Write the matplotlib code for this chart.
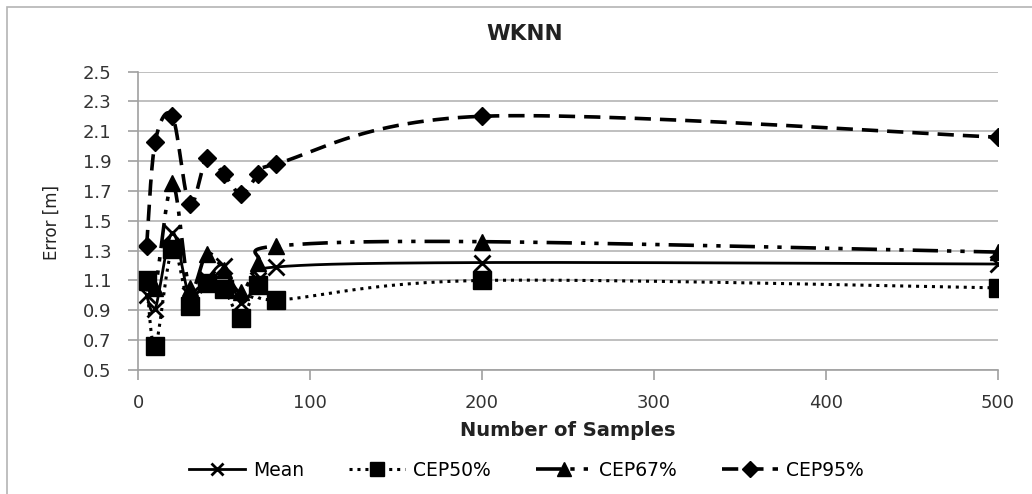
import numpy as np
import matplotlib.pyplot as plt
from matplotlib.patches import Rectangle

plt.rcParams['font.family'] = ['DejaVu Sans']

samples = [5, 10, 20, 30, 40, 50, 60, 70, 80, 200, 500]
mean_err = [1.00, 0.91, 1.42, 1.00, 1.11, 1.20, 0.95, 1.10, 1.19, 1.22, 1.21]
cep50 = [1.10, 0.66, 1.31, 0.93, 1.08, 1.04, 0.85, 1.07, 0.97, 1.10, 1.05]
cep67 = [1.09, 1.05, 1.75, 1.05, 1.28, 1.17, 1.02, 1.22, 1.33, 1.36, 1.29]
cep95 = [1.33, 2.03, 2.20, 1.61, 1.92, 1.81, 1.68, 1.81, 1.88, 2.20, 2.06]
ytick_vals = [0.5, 0.7, 0.9, 1.1, 1.3, 1.5, 1.7, 1.9, 2.1, 2.3, 2.5]


def smooth(xs, ys, n=30):
    # excel-style smoothed line: catmull-rom through every point
    p = np.column_stack([xs, ys]).astype(float)
    p = np.vstack([p[0], p, p[-1]])
    out = []
    t = np.linspace(0, 1, n)[:, None]
    for i in range(1, len(p) - 2):
        p0, p1, p2, p3 = p[i - 1], p[i], p[i + 1], p[i + 2]
        seg = 0.5 * ((2 * p1) + (-p0 + p2) * t + (2 * p0 - 5 * p1 + 4 * p2 - p3) * t ** 2
                     + (-p0 + 3 * p1 - 3 * p2 + p3) * t ** 3)
        out.append(seg)
    out = np.vstack(out)
    return out[:, 0], out[:, 1]


fig = plt.figure(figsize=(10.32, 4.94), dpi=100)
# chart border (only left/top edges fall inside the image)
fig.patches.append(Rectangle((7 / 1032, -0.1), 1.2, 1.086, transform=fig.transFigure,
                             fill=False, edgecolor='#b4b4b4', linewidth=1.2))
ax = fig.add_axes([138 / 1032, 1 - 370 / 494, 860 / 1032, 298.5 / 494])

series = [
    ('Mean', mean_err, '-', 'x', 11, 2.0),
    ('CEP50%', cep50, (0, (1, 1.6)), 's', 12.5, 2.2),
    ('CEP67%', cep67, (0, (7, 2.5, 1.2, 2.5, 1.2, 2.5)), '^', 12, 2.6),
    ('CEP95%', cep95, (0, (4.5, 2.5)), 'D', 9, 2.6),
]
for name, vals, ls, mk, ms, lw in series:
    sx, sy = smooth(samples, vals)
    ax.plot(sx, sy, color='black', linestyle=ls, linewidth=lw)
    ax.plot(samples, vals, linestyle='none', marker=mk, markersize=ms, color='black',
            markeredgewidth=2 if mk == 'x' else 1)
    ax.plot([], [], color='black', linestyle=ls, linewidth=lw, marker=mk,
            markersize=ms * 0.85, markeredgewidth=2 if mk == 'x' else 1, label=name)

ax.set_xlim(0, 500)
ax.set_ylim(0.5, 2.5)
ax.set_xticks([0, 100, 200, 300, 400, 500])
ax.set_yticks(ytick_vals)
ax.set_yticklabels(['%.1f' % v for v in ytick_vals])
ax.grid(axis='y', color='#b4b4b4', linewidth=1.2)
ax.set_axisbelow(True)
for s in ['top', 'right']:
    ax.spines[s].set_visible(False)
ax.spines['left'].set_color('#a0a0a0')
ax.spines['bottom'].set_color('#a0a0a0')
ax.spines['left'].set_linewidth(1.2)
ax.spines['bottom'].set_linewidth(1.2)
ax.tick_params(axis='both', colors='#a0a0a0', labelcolor='#333333', labelsize=13,
               length=7, width=1.2)
ax.tick_params(axis='y', pad=12)
ax.tick_params(axis='x', pad=10)

fig.text(0.508, 1 - 33.5 / 494, 'WKNN', ha='center', va='center', fontsize=15.5,
         fontweight='bold', color='#222222')
ax.set_xlabel('Number of Samples', fontsize=14, fontweight='bold', labelpad=7,
              color='#222222')
fig.text(52 / 1032, 1 - 222 / 494, 'Error [m]', rotation=90, ha='center', va='center',
         fontsize=12, color='#222222')

fig.legend(loc='center', bbox_to_anchor=(0.51, 1 - 470 / 494), ncol=4, frameon=False,
           fontsize=13.5, handlelength=3.0, handletextpad=0.4, columnspacing=2.4)

fig.savefig('out.png', dpi=100)
